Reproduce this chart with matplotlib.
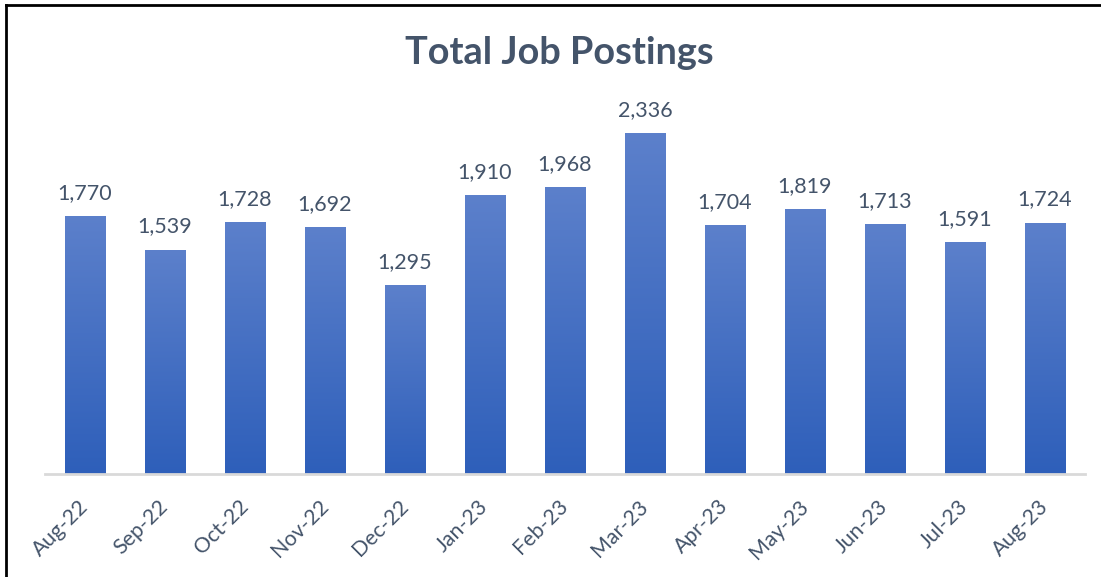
import matplotlib
matplotlib.use("Agg")
import matplotlib.pyplot as plt
import numpy as np
from matplotlib.lines import Line2D
from matplotlib.colors import LinearSegmentedColormap

months = ["Aug-22", "Sep-22", "Oct-22", "Nov-22", "Dec-22", "Jan-23", "Feb-23",
          "Mar-23", "Apr-23", "May-23", "Jun-23", "Jul-23", "Aug-23"]
postings = [1770, 1539, 1728, 1692, 1295, 1910, 1968, 2336, 1704, 1819, 1713, 1591, 1724]

title = "Total Job Postings"
text_color = "#44546A"
top_color = "#5C80CB"
bottom_color = "#2E5FBA"

plt.rcParams['font.family'] = ['Lato', 'DejaVu Sans']

fig = plt.figure(figsize=(11.01, 5.77), dpi=100)
ax = fig.add_axes([45/1101, 1 - 474/577, 1040/1101, (474 - 109.4)/577])

x = np.arange(len(months))
bars = ax.bar(x, postings, width=0.51, color="none", edgecolor="none", zorder=2)

cmap = LinearSegmentedColormap.from_list("g", [bottom_color, top_color])
grad = np.linspace(0, 1, 256).reshape(-1, 1)
for b in bars:
    x0, y0 = b.get_x(), b.get_y()
    w, h = b.get_width(), b.get_height()
    im = ax.imshow(grad, cmap=cmap, origin="lower", aspect="auto",
                   extent=[x0, x0 + w, y0, y0 + h], zorder=2, interpolation="bilinear")
    im.set_clip_path(b)

for xi, v in zip(x, postings):
    ax.annotate(f"{v:,}", (xi, v), xytext=(0, 17), textcoords="offset pixels",
                ha="center", va="baseline", fontsize=15.5, color=text_color)

ax.set_xlim(-0.5, len(months) - 0.5)
ax.set_ylim(0, 2500)
ax.set_yticks([])
ax.set_xticks(x)
ax.set_xticklabels(months, rotation=45, ha="right", va="center",
                   rotation_mode="anchor", fontsize=15.3, color=text_color)
ax.tick_params(axis="x", length=0, pad=21)
for lbl in ax.get_xticklabels():
    lbl.set_x(lbl.get_position()[0])
for s in ["left", "right", "top"]:
    ax.spines[s].set_visible(False)
ax.spines["bottom"].set_color("#D9D9D9")
ax.spines["bottom"].set_linewidth(2)
ax.spines["bottom"].set_zorder(3)

fig.text(559/1101, 1 - 64/577, title, ha="center", va="baseline",
         fontsize=27.3, fontweight="bold", color=text_color)

fig.add_artist(Line2D([6.5/1101, 6.5/1101], [0, 1 - 4.5/577], color="black", lw=2,
                      transform=fig.transFigure))
fig.add_artist(Line2D([6.5/1101, 1], [1 - 4.5/577, 1 - 4.5/577], color="black", lw=2,
                      transform=fig.transFigure))

fig.savefig("out.png", dpi=100)
